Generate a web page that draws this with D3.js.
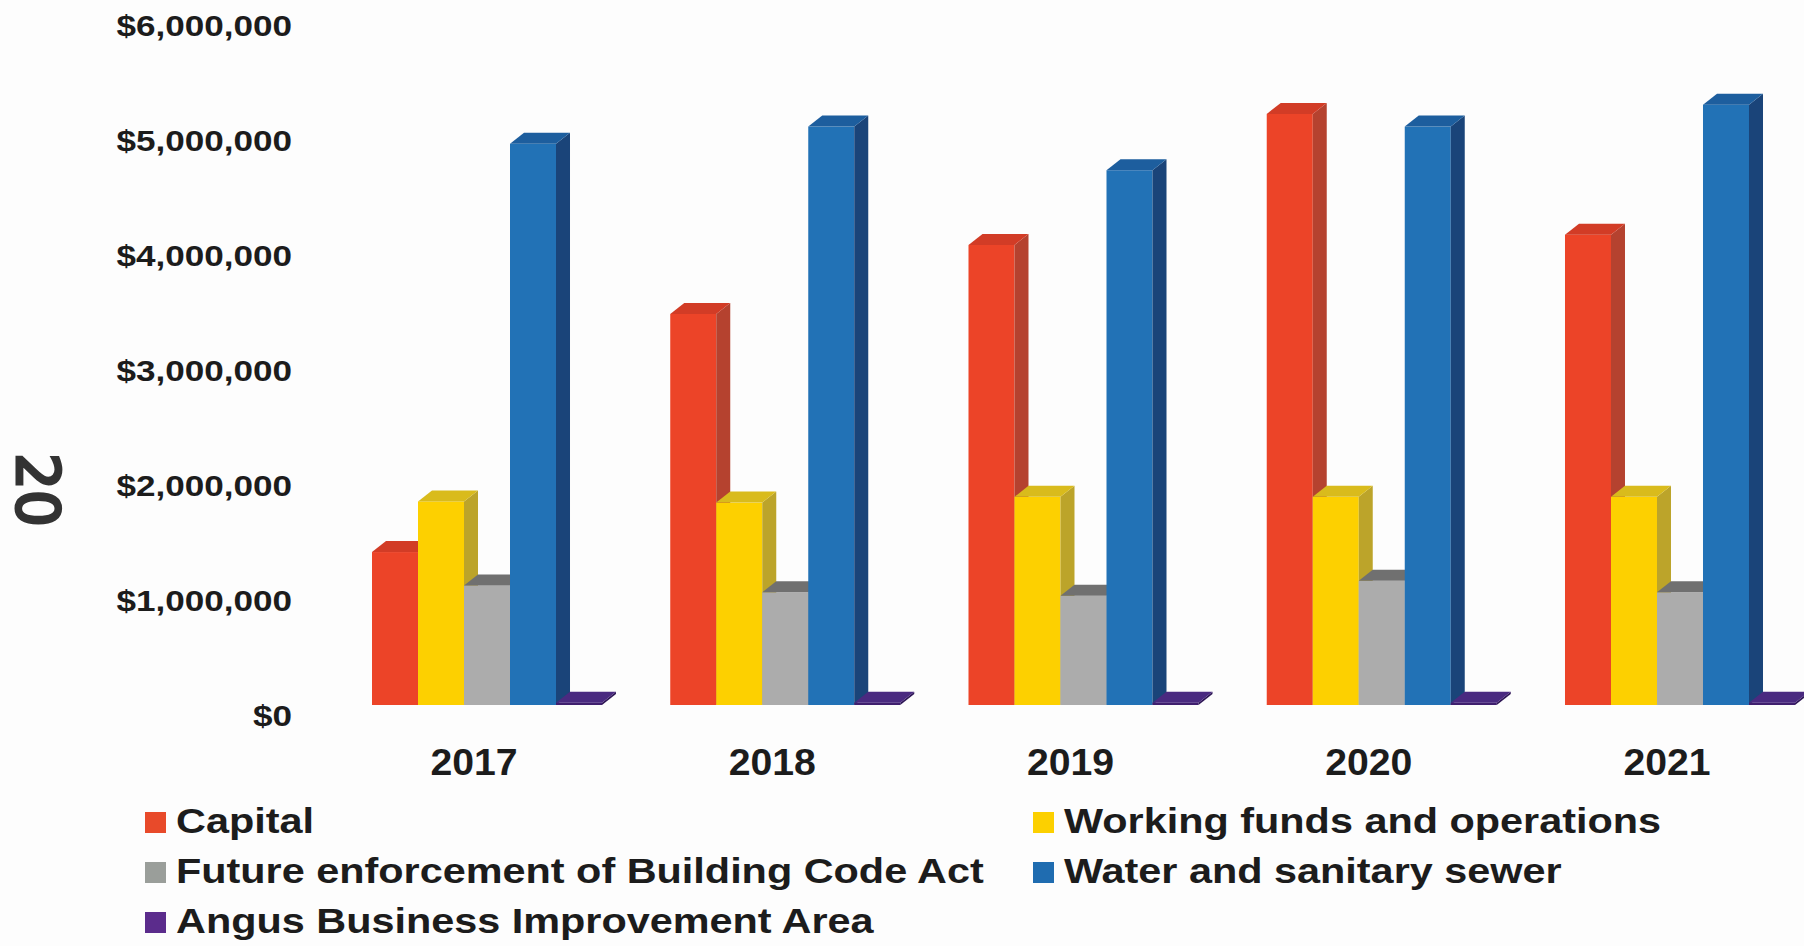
<!doctype html>
<html>

<head>
	<title>Reserve balances</title>
	<script src="https://d3js.org/d3.v7.min.js"></script>
	<style>
		body { margin: 0; background: #fdfdfd; }
		text { font-family: "Liberation Sans", Arial, sans-serif; font-weight: bold; fill: #1c1c1c; }
	</style>
</head>

<body>

	<script>

		var years = ["2017", "2018", "2019", "2020", "2021"];
		var seriesNames = ["Capital", "Working funds and operations", "Future enforcement of Building Code Act",
			"Water and sanitary sewer", "Angus Business Improvement Area"];

		var capital = [1330000, 3400000, 4000000, 5140000, 4090000];
		var working = [1770000, 1760000, 1810000, 1810000, 1810000];
		var future = [1040000, 980000, 950000, 1080000, 980000];
		var water = [4880000, 5030000, 4650000, 5030000, 5220000];
		var angus = [20000, 20000, 20000, 20000, 20000];

		var yTicks = [0, 1000000, 2000000, 3000000, 4000000, 5000000, 6000000];

		var series = [capital, working, future, water, angus];

		var frontColors = ["#ec4428", "#fdd000", "#acacac", "#2272b6", "#3f1f6e"];
		var topColors = ["#d23c26", "#d9bb1c", "#707070", "#1d5e9e", "#4a2a80"];
		var sideColors = ["#b5422f", "#bca42a", "#8c8c8c", "#1a4479", "#2e1656"];
		var legendColors = ["#e84a2a", "#fcd000", "#9a9e9a", "#1f6cb0", "#5b2c8c"];

		var width = 1804;
		var height = 946;
		var baseY = 705;
		var dx = 14;   // depth offset of the 3d faces
		var dy = 11;

		var svg = d3.select("body")
			.append("svg")
			.attr("width", width)
			.attr("height", height);

		svg.append("rect")
			.attr("width", width)
			.attr("height", height)
			.attr("fill", "#fdfdfd");

		var y = d3.scaleLinear()
			.domain([0, 6000000])
			.range([baseY, baseY - 690]);

		var x0 = d3.scaleBand()
			.domain(years)
			.range([372, 1795])
			.paddingInner(0.2288)
			.paddingOuter(0);

		var x1 = d3.scaleBand()
			.domain(d3.range(seriesNames.length))
			.range([0, x0.bandwidth()]);

		// y axis labels
		var yAxis = d3.axisLeft(y)
			.tickValues(yTicks)
			.tickSize(0)
			.tickPadding(0)
			.tickFormat(d3.format("$,"));

		var yg = svg.append("g")
			.attr("transform", "translate(292, 11)")
			.call(yAxis);
		yg.select(".domain").remove();
		yg.selectAll("text")
			.attr("font-size", 30)
			.attr("font-family", null)
			.attr("transform", "scale(1.17,1)");

		// x axis labels
		var xAxis = d3.axisBottom(x0)
			.tickSize(0)
			.tickPadding(0);

		var xg = svg.append("g")
			.attr("transform", "translate(-13, 749)")
			.call(xAxis);
		xg.select(".domain").remove();
		xg.selectAll("text")
			.attr("font-size", 37)
			.attr("font-family", null)
			.attr("transform", "scale(1.06,1)");

		// 3d bars
		var w = x1.bandwidth();
		var groups = svg.selectAll(".year")
			.data(years)
			.enter()
			.append("g")
			.attr("class", "year")
			.attr("transform", function (d) { return "translate(" + x0(d) + ",0)"; });

		groups.each(function (yr, yi) {
			var g = d3.select(this);
			series.forEach(function (vals, si) {
				var bx = x1(si);
				var t = y(vals[yi]);
				g.append("rect")
					.attr("x", bx)
					.attr("y", t)
					.attr("width", w)
					.attr("height", baseY - t)
					.attr("fill", frontColors[si]);
				g.append("polygon")
					.attr("points", [[bx + w, t], [bx + w + dx, t - dy], [bx + w + dx, baseY - dy], [bx + w, baseY]].join(" "))
					.attr("fill", sideColors[si]);
				g.append("polygon")
					.attr("points", [[bx, t], [bx + dx, t - dy], [bx + w + dx, t - dy], [bx + w, t]].join(" "))
					.attr("fill", topColors[si]);
			});
		});

		// legend
		var legend = svg.selectAll(".legend")
			.data(seriesNames)
			.enter()
			.append("g")
			.attr("class", "legend")
			.attr("transform", function (d, i) {
				var col = i % 2;
				var row = Math.floor(i / 2);
				return "translate(" + (col === 0 ? 145 : 1033) + "," + (833 + row * 50) + ")";
			});

		legend.append("rect")
			.attr("x", 0)
			.attr("y", -21)
			.attr("width", 21)
			.attr("height", 21)
			.attr("fill", function (d, i) { return legendColors[i]; });

		legend.append("text")
			.attr("x", 31 / 1.15)
			.attr("y", 0)
			.attr("font-size", 36)
			.attr("transform", "scale(1.15,1)")
			.text(function (d) { return d; });

		// handwritten page mark
		svg.append("text")
			.attr("transform", "translate(37, 490) rotate(90)")
			.attr("text-anchor", "middle")
			.attr("dominant-baseline", "central")
			.attr("font-size", 58)
			.style("font-family", "DejaVu Sans")
			.style("font-weight", "normal")
			.style("fill", "#333")
			.attr("stroke", "#333")
			.attr("stroke-width", 3)
			.text("20");

	</script>
</body>

</html>
